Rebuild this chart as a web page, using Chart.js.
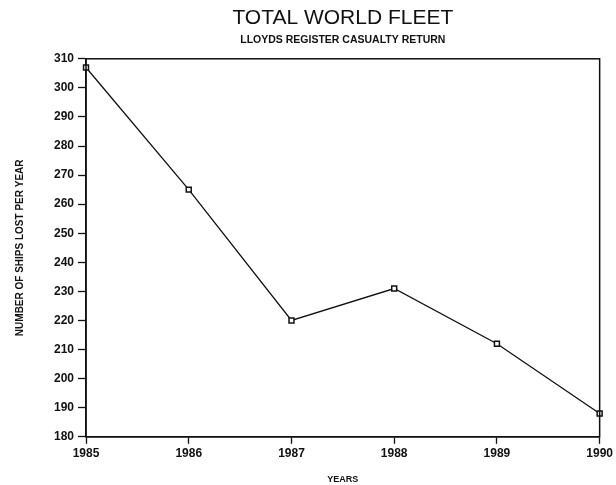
<!DOCTYPE html>
<html>
<head>
<meta charset="utf-8">
<script src="https://cdn.jsdelivr.net/npm/chart.js@4"></script>
<style>
  body { margin: 0; background: #fff; }
  #wrap { width: 616px; height: 485px; }
</style>
</head>
<body>
<div id="wrap"><canvas id="myChart" width="616" height="485"></canvas></div>
<script>
const years = ['1985', '1986', '1987', '1988', '1989', '1990'];
const shipsLost = [307, 265, 220, 231, 212, 188];
const yMin = 180;
const yMax = 310;
const yStep = 10;

// box round the whole plot area (top and right sides too)
const frame = {
    id: 'frame',
    afterDraw(chart) {
        const { ctx, chartArea } = chart;
        ctx.save();
        ctx.strokeStyle = '#111';
        ctx.lineWidth = 1.5;
        ctx.strokeRect(chartArea.left, chartArea.top, chartArea.right - chartArea.left, chartArea.bottom - chartArea.top);
        ctx.restore();
    }
};

const ctx = document.getElementById('myChart').getContext('2d');
new Chart(ctx, {
    type: 'line',
    data: {
        labels: years,
        datasets: [
            {
                label: 'Ships lost',
                data: shipsLost,
                borderColor: '#111',
                borderWidth: 1.3,
                backgroundColor: '#fff',
                pointStyle: 'rect',
                pointRadius: 3.5,
                pointBorderWidth: 1.5,
                pointBorderColor: '#111',
                pointBackgroundColor: '#fff',
                tension: 0,
            },
        ],
    },
    options: {
        responsive: false,
        animation: false,
        layout: {
            autoPadding: false,
            padding: { left: 14, right: -3, top: 0, bottom: 0 },
        },
        plugins: {
            legend: { display: false },
            tooltip: { enabled: false },
            title: {
                display: true,
                fullSize: false,
                text: 'TOTAL WORLD FLEET',
                color: '#111',
                font: { family: 'Liberation Sans', size: 21, weight: 'normal' },
                padding: { top: 6, bottom: 2 },
            },
            subtitle: {
                display: true,
                fullSize: false,
                text: 'LLOYDS REGISTER CASUALTY RETURN',
                color: '#111',
                font: { family: 'Liberation Sans', size: 10.5, weight: 'bold' },
                padding: { top: 1, bottom: 12 },
            },
        },
        scales: {
            x: {
                offset: false,
                grid: { drawOnChartArea: false, tickLength: 7, tickColor: '#111', tickWidth: 1.3 },
                border: { color: '#111', width: 1.5 },
                ticks: {
                    color: '#111',
                    font: { family: 'Liberation Sans', size: 12, weight: 'bold' },
                    padding: 3,
                    maxRotation: 0,
                    autoSkip: false,
                },
                title: {
                    display: true,
                    text: 'YEARS',
                    color: '#111',
                    font: { family: 'Liberation Sans', size: 9, weight: 'bold' },
                    padding: { top: 10, bottom: 0 },
                },
            },
            y: {
                min: yMin,
                max: yMax,
                grid: { drawOnChartArea: false, tickLength: 8, tickColor: '#111', tickWidth: 1.3 },
                border: { color: '#111', width: 1.5 },
                ticks: {
                    stepSize: yStep,
                    color: '#111',
                    font: { family: 'Liberation Sans', size: 12, weight: 'bold' },
                    padding: 4,
                },
                title: {
                    display: true,
                    text: 'NUMBER OF SHIPS LOST PER YEAR',
                    color: '#111',
                    font: { family: 'Liberation Sans', size: 10, weight: 'bold' },
                    padding: { top: 0, bottom: 24 },
                },
            },
        },
    },
    plugins: [frame],
});
</script>
</body>
</html>
